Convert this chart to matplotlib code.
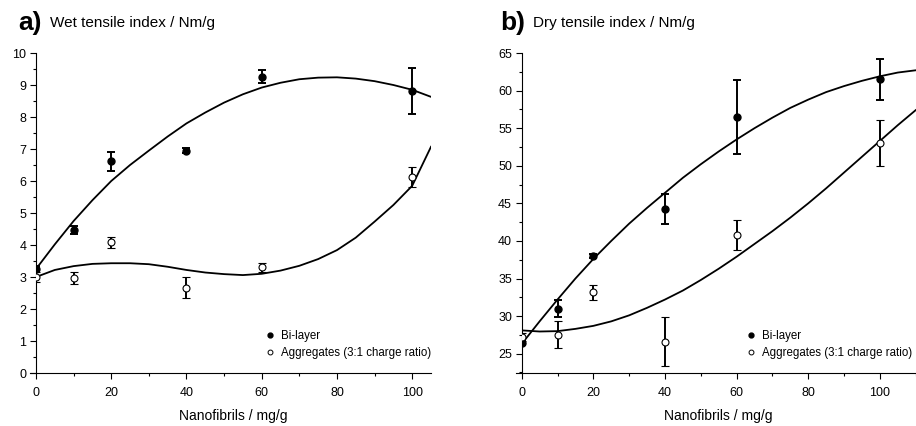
import numpy as np
import matplotlib.pyplot as plt
from matplotlib.ticker import MultipleLocator

plt.rcParams['font.family'] = ['Liberation Sans', 'DejaVu Sans']

# measured points (x = nanofibrils, mg/g)
x_pts = [0, 10, 20, 40, 60, 100]

wet_bilayer = [3.25, 4.46, 6.62, 6.94, 9.26, 8.82]
wet_bilayer_err = [0.10, 0.13, 0.30, 0.08, 0.21, 0.72]
wet_aggr = [3.00, 2.97, 4.08, 2.66, 3.31, 6.12]
wet_aggr_err = [0.15, 0.18, 0.17, 0.33, 0.14, 0.31]

dry_bilayer = [26.4, 31.0, 38.0, 44.3, 56.5, 61.5]
dry_bilayer_err = [0.3, 1.15, 0.3, 2.0, 4.9, 2.75]
dry_aggr = [27.2, 27.5, 33.2, 26.6, 40.8, 53.0]
dry_aggr_err = [0.5, 1.8, 1.0, 3.25, 2.0, 3.05]

# fitted curves
wet_fit_x = [0, 5, 10, 15, 20, 25, 30, 35, 40, 45, 50, 55, 60, 65, 70, 75, 80, 85, 90, 95, 100, 105]
wet_bilayer_fit = [3.25, 4.02, 4.75, 5.40, 6.00, 6.50, 6.95, 7.39, 7.80, 8.14, 8.45, 8.71, 8.92, 9.07,
                   9.18, 9.23, 9.24, 9.20, 9.12, 9.00, 8.85, 8.63]
wet_aggr_fit = [3.00, 3.22, 3.34, 3.41, 3.43, 3.43, 3.40, 3.32, 3.22, 3.14, 3.09, 3.06, 3.10, 3.20,
                3.35, 3.56, 3.84, 4.23, 4.73, 5.25, 5.85, 7.07]

dry_fit_x = [0, 5, 10, 15, 20, 25, 30, 35, 40, 45, 50, 55, 60, 65, 70, 75, 80, 85, 90, 95, 100, 105, 110]
dry_bilayer_fit = [26.3, 29.3, 32.2, 35.0, 37.6, 40.0, 42.3, 44.4, 46.4, 48.4, 50.2, 51.9, 53.5,
                   55.0, 56.4, 57.7, 58.8, 59.8, 60.6, 61.3, 61.9, 62.4, 62.7]
dry_aggr_fit = [28.1, 27.95, 28.0, 28.3, 28.7, 29.3, 30.1, 31.1, 32.2, 33.4, 34.8, 36.3, 37.9,
                39.6, 41.3, 43.1, 45.0, 47.0, 49.1, 51.2, 53.3, 55.4, 57.4]

fig = plt.figure(figsize=(9.16, 4.26), dpi=100)
ax1 = fig.add_axes([36 / 916, 53 / 426, 395 / 916, 320 / 426])
ax2 = fig.add_axes([521.7 / 916, 53 / 426, 394 / 916, 320 / 426])


def style_axis(ax, xmax, ylim, ymaj, ymin):
    ax.set_xlim(0, xmax)
    ax.set_ylim(*ylim)
    ax.spines['top'].set_visible(False)
    ax.spines['right'].set_visible(False)
    ax.spines['bottom'].set_bounds(-1.6, xmax)
    ax.xaxis.set_major_locator(MultipleLocator(20))
    ax.xaxis.set_minor_locator(MultipleLocator(10))
    ax.yaxis.set_major_locator(MultipleLocator(ymaj))
    ax.yaxis.set_minor_locator(MultipleLocator(ymin))
    ax.tick_params(which='major', direction='out', length=4, width=0.8, labelsize=9, pad=3)
    ax.tick_params(which='minor', direction='out', length=2.5, width=0.8)
    ax.tick_params(axis='x', pad=6)
    ax.set_xlabel('Nanofibrils / mg/g', fontsize=10, labelpad=7)


def draw(ax, fx, fb, fa, yb, eb, ya, ea):
    ax.plot(fx, fb, color='black', lw=1.3, zorder=2)
    ax.plot(fx, fa, color='black', lw=1.3, zorder=2)
    ax.errorbar(x_pts, yb, yerr=eb, fmt='o', color='black', mfc='black', ms=5,
                elinewidth=1.4, capsize=3, capthick=1.4, label='Bi-layer', zorder=3)
    ax.errorbar(x_pts, ya, yerr=ea, fmt='o', color='black', mfc='white', mec='black', ms=5,
                mew=0.8, elinewidth=1.4, capsize=3, capthick=1.4,
                label='Aggregates (3:1 charge ratio)', zorder=3)


draw(ax1, wet_fit_x, wet_bilayer_fit, wet_aggr_fit, wet_bilayer, wet_bilayer_err, wet_aggr, wet_aggr_err)
draw(ax2, dry_fit_x, dry_bilayer_fit, dry_aggr_fit, dry_bilayer, dry_bilayer_err, dry_aggr, dry_aggr_err)

style_axis(ax1, 105, (0, 10), 1, 0.5)
style_axis(ax2, 110, (22.43, 65), 5, 2.5)

for ax, loc in [(ax1, (0.57, 0.028)), (ax2, (0.558, 0.028))]:
    h, l = ax.get_legend_handles_labels()
    h = [plt.Line2D([], [], marker='o', ls='none', color='black', mfc='black', ms=3.5),
         plt.Line2D([], [], marker='o', ls='none', color='black', mfc='white', ms=3.5, mew=0.7)]
    ax.legend(h, l, loc='lower left', bbox_to_anchor=loc, frameon=False, fontsize=8.3,
              handlelength=0.8, handletextpad=0.55, labelspacing=0.45, borderaxespad=0)

fig.text(18 / 916, 1 - 30 / 426, 'a)', fontsize=19, fontweight='bold', va='baseline')
fig.text(50 / 916, 1 - 27 / 426, 'Wet tensile index / Nm/g', fontsize=11, va='baseline')
fig.text(500 / 916, 1 - 30 / 426, 'b)', fontsize=19, fontweight='bold', va='baseline')
fig.text(533 / 916, 1 - 27 / 426, 'Dry tensile index / Nm/g', fontsize=11, va='baseline')

fig.savefig('out.png', dpi=100)
